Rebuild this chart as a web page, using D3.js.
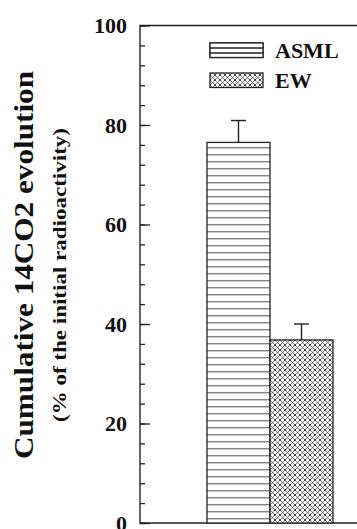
<!DOCTYPE html>
<html>
<head>
<meta charset="utf-8">
<script src="https://cdn.jsdelivr.net/npm/d3@7"></script>
<style>
  body { margin: 0; background: #fff; }
  text { font-family: "Liberation Serif", "Times New Roman", serif; font-weight: bold; fill: #111; }
</style>
</head>
<body>
<div id="chart"></div>
<script>
// data
const categories = ["ASML", "EW"];
const values = [76.5, 36.8];
const errors = [4.4, 3.2];
const yTicks = [0, 20, 40, 60, 80, 100];

const width = 357, height = 529;
const svg = d3.select("#chart").append("svg")
  .attr("width", width)
  .attr("height", height);

const defs = svg.append("defs");

// horizontal stripes
const stripes = defs.append("pattern")
  .attr("id", "stripes")
  .attr("patternUnits", "userSpaceOnUse")
  .attr("width", 8).attr("height", 7)
  .attr("patternTransform", "translate(0,0.3)");
stripes.append("rect").attr("width", 8).attr("height", 7).attr("fill", "#fff");
stripes.append("line")
  .attr("x1", 0).attr("x2", 8).attr("y1", 0).attr("y2", 0)
  .attr("stroke", "#222").attr("stroke-width", 1.6);

// crosshatch dots
const cross = defs.append("pattern")
  .attr("id", "cross")
  .attr("patternUnits", "userSpaceOnUse")
  .attr("width", 5).attr("height", 5);
cross.append("rect").attr("width", 5).attr("height", 5).attr("fill", "#fff");
cross.append("path")
  .attr("d", "M0,0L5,5M5,0L0,5")
  .attr("stroke", "#777").attr("stroke-width", 0.9);
cross.append("rect").attr("x", 2).attr("y", 2).attr("width", 1.2).attr("height", 1.2).attr("fill", "#555");
[[-0.7, -0.7], [4.3, -0.7], [-0.7, 4.3], [4.3, 4.3]].forEach(([px, py]) =>
  cross.append("rect").attr("x", px).attr("y", py).attr("width", 1.4).attr("height", 1.4).attr("fill", "#000"));

const fills = { ASML: "url(#stripes)", EW: "url(#cross)" };

const x0 = 140, yTop = 25.5, yBottom = 523;
const y = d3.scaleLinear().domain([0, 100]).range([yBottom, yTop]);
const x = d3.scaleBand().domain(categories).range([207, 333]).padding(0);

// frame: top and bottom lines
svg.append("line").attr("x1", x0).attr("x2", width).attr("y1", yTop).attr("y2", yTop)
  .attr("stroke", "#222").attr("stroke-width", 1.4);
svg.append("line").attr("x1", x0).attr("x2", width).attr("y1", yBottom).attr("y2", yBottom)
  .attr("stroke", "#222").attr("stroke-width", 1.4);

// y axis with inward ticks
const axis = svg.append("g").attr("transform", `translate(${x0},0)`);
axis.call(d3.axisLeft(y).tickValues(d3.range(0, 101, 4)).tickSize(-5).tickFormat(""));
axis.call(g => g.select(".domain").remove());
const major = svg.append("g").attr("transform", `translate(${x0},0)`)
  .call(d3.axisLeft(y).tickValues(yTicks).tickSize(-10).tickPadding(13));
major.selectAll("text").attr("font-size", 22).attr("font-family", "Liberation Serif").attr("font-weight", "bold").attr("fill", "#111");
major.select(".domain").remove();
svg.selectAll(".tick line").attr("stroke", "#222").attr("stroke-width", 1.3);
svg.append("line").attr("x1", x0).attr("x2", x0).attr("y1", yTop - 0.7).attr("y2", yBottom + 0.7)
  .attr("stroke", "#222").attr("stroke-width", 1.4);

// bars
svg.selectAll(".bar").data(categories).join("rect")
  .attr("class", "bar")
  .attr("x", d => x(d))
  .attr("y", (d, i) => y(values[i]))
  .attr("width", x.bandwidth())
  .attr("height", (d, i) => y(0) - y(values[i]))
  .attr("fill", d => fills[d])
  .attr("stroke", "#222").attr("stroke-width", 1.3);

// error bars
categories.forEach((c, i) => {
  const cx = x(c) + x.bandwidth() / 2;
  const yt = y(values[i] + errors[i]);
  svg.append("line").attr("x1", cx).attr("x2", cx).attr("y1", y(values[i])).attr("y2", yt)
    .attr("stroke", "#222").attr("stroke-width", 1.4);
  svg.append("line").attr("x1", cx - 7.5).attr("x2", cx + 7.5).attr("y1", yt).attr("y2", yt)
    .attr("stroke", "#222").attr("stroke-width", 1.4);
});

// legend
const legend = svg.append("g");
categories.forEach((c, i) => {
  const ly = 43 + i * 30;
  legend.append("rect").attr("x", 210).attr("y", ly).attr("width", 53).attr("height", 14.5)
    .attr("fill", fills[c]).attr("stroke", "#222").attr("stroke-width", 1.3);
  legend.append("text").attr("x", 275).attr("y", ly + 15).attr("font-size", 22).text(c);
});
// the ASML swatch shows two inner lines
legend.append("rect").attr("x", 210).attr("y", 43).attr("width", 53).attr("height", 14.5)
  .attr("fill", "#fff").attr("stroke", "#222").attr("stroke-width", 1.3);
[48, 53].forEach(ly => legend.append("line").attr("x1", 210).attr("x2", 263).attr("y1", ly).attr("y2", ly)
  .attr("stroke", "#222").attr("stroke-width", 1.3));

// axis titles
svg.append("text")
  .attr("transform", "translate(33,265) rotate(-90)")
  .attr("text-anchor", "middle")
  .attr("font-size", 28)
  .attr("textLength", 388)
  .attr("lengthAdjust", "spacingAndGlyphs")
  .text("Cumulative 14CO2 evolution");
svg.append("text")
  .attr("transform", "translate(66,275) rotate(-90)")
  .attr("text-anchor", "middle")
  .attr("font-size", 19)
  .attr("textLength", 294)
  .attr("lengthAdjust", "spacingAndGlyphs")
  .text("(% of the initial radioactivity)");
</script>
</body>
</html>
